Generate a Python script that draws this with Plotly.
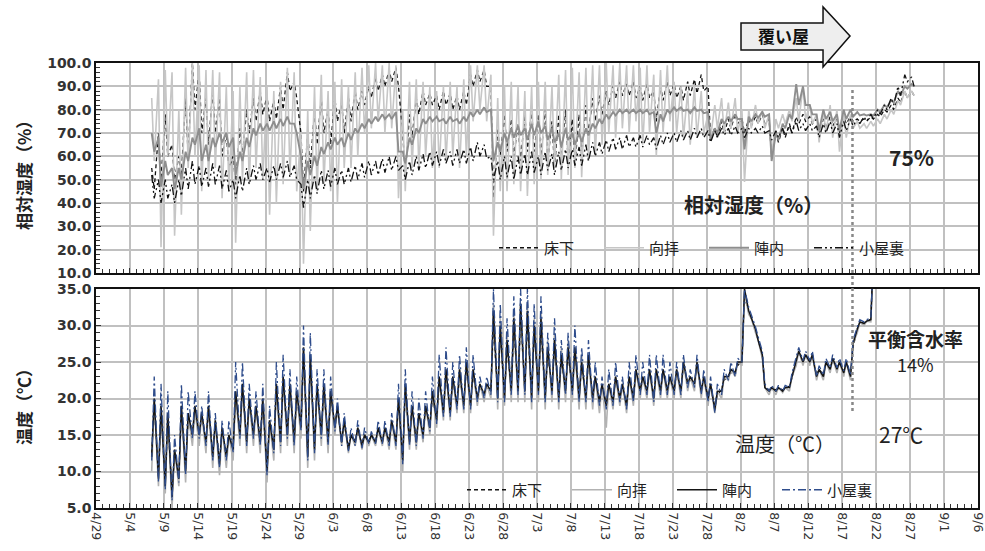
import pandas as pd
import plotly.graph_objects as go

# ---------------- data ----------------
series_names = ["床下", "向拝", "陣内", "小屋裏"]
rh_start = "2021-05-07"   # daily values 5/7 .. 8/27 ; hi at ~05:00, lo at ~14:00
t_start = "2021-05-07"    # daily values 5/7 .. 8/21 ; lo at ~05:00, hi at ~14:00

# Relative humidity (%) ---------------------------------------
rh_yuka_hi = [55, 70, 78, 65, 60, 85, 100, 96, 85, 88,
              85, 70, 60, 72, 80, 85, 88, 86, 84, 90,
              96, 92, 70, 70, 80,
              85, 80, 85, 83, 85, 88, 88, 90, 94, 95,
              97, 98, 70, 78, 85, 88, 87, 86, 88, 87,
              86, 88, 95, 97, 97, 90, 72, 78, 76, 74,
              78, 80, 78, 80, 75, 78, 80, 76, 78, 82,
              85, 86, 88, 90, 92, 91, 92, 90, 91, 88,
              90, 92, 91, 90, 92, 93, 95, 90, 72, 75, 76,
              78, 76, 76, 77, 78, 76, 70, 72, 74, 77,
              78, 77, 76, 76, 77, 76, 77, 77, 76, 76,
              77, 78, 80, 82, 85, 88, 88]
rh_yuka_lo = [46, 50, 60, 50, 52, 60, 80, 70, 65, 70,
              60, 55, 48, 60, 70, 75, 78, 75, 76, 80,
              88, 85, 45, 55, 65,
              70, 65, 75, 70, 75, 80, 82, 85, 88, 90,
              92, 90, 52, 68, 78, 82, 82, 80, 82, 80,
              80, 82, 90, 92, 90, 42, 60, 62, 60, 58,
              62, 62, 60, 58, 55, 60, 58, 56, 60, 70,
              75, 78, 82, 85, 86, 86, 85, 84, 85, 75,
              84, 86, 85, 84, 86, 87, 88, 68, 68, 70, 72,
              74, 70, 73, 74, 74, 60, 66, 68, 70, 74,
              75, 74, 70, 72, 73, 70, 74, 75, 75, 75,
              76, 77, 79, 80, 83, 85, 86]

rh_kouhai_hi = [85, 93, 97, 96, 80, 98, 100, 99, 97, 97,
                96, 90, 88, 90, 96, 97, 94, 90, 88, 92,
                98, 96, 70, 80, 90,
                95, 88, 92, 93, 90, 96, 98, 99, 100, 99,
                100, 99, 80, 92, 93, 92, 90, 88, 90, 92,
                90, 93, 99, 99, 99, 95, 85, 90, 92, 90,
                88, 90, 92, 92, 90, 95, 97, 98, 96, 98,
                99, 99, 100, 99, 100, 99, 99, 98, 99, 95,
                97, 99, 92, 90, 88, 90, 88, 78, 82, 85, 83,
                85, 80, 80, 82, 80, 78, 76, 78, 80, 85,
                90, 82, 78, 80, 82, 80, 78, 78, 75, 74,
                75, 76, 78, 80, 84, 88, 88]
rh_kouhai_lo = [58, 21, 60, 26, 35, 55, 60, 45, 50, 55,
                42, 45, 23, 50, 48, 55, 50, 35, 40, 48,
                52, 45, 14, 28, 45,
                48, 45, 40, 55, 55, 60, 70, 72, 75, 70,
                72, 42, 45, 55, 55, 60, 55, 55, 58, 60,
                55, 60, 75, 80, 75, 26, 45, 45, 48, 45,
                43, 48, 50, 52, 55, 50, 52, 55, 51, 58,
                60, 65, 70, 68, 72, 70, 75, 65, 70, 60,
                70, 75, 70, 68, 65, 68, 70, 68, 72, 70, 72,
                70, 49, 72, 74, 72, 60, 72, 74, 75, 75,
                76, 74, 66, 70, 68, 62, 68, 72, 72, 72,
                73, 74, 76, 78, 82, 85, 86]

rh_jinnai_hi = [70, 68, 58, 55, 55, 62, 68, 72, 65, 68,
                70, 70, 68, 62, 68, 72, 74, 74, 75, 76,
                77, 74, 60, 58, 60,
                64, 66, 68, 68, 70, 72, 74, 76, 77, 78,
                78, 79, 62, 68, 72, 76, 77, 77, 76, 77,
                76, 77, 79, 80, 81, 80, 66, 70, 72, 73,
                72, 74, 75, 73, 72, 70, 72, 70, 70, 72,
                74, 76, 78, 79, 80, 80, 80, 80, 80, 79,
                78, 80, 81, 81, 80, 81, 80, 79, 72, 76, 77,
                78, 76, 77, 78, 79, 78, 70, 74, 78, 91,
                90, 82, 78, 80, 79, 78, 80, 80, 79, 78,
                78, 80, 82, 84, 88, 90, 91]
rh_jinnai_lo = [62, 47, 52, 46, 50, 58, 65, 58, 58, 64,
                66, 64, 52, 58, 64, 69, 71, 71, 72, 73,
                74, 70, 46, 52, 56,
                61, 63, 65, 64, 67, 70, 72, 74, 75, 76,
                76, 62, 57, 65, 70, 74, 75, 75, 74, 75,
                74, 75, 77, 78, 79, 58, 62, 66, 68, 69,
                67, 69, 70, 67, 66, 64, 67, 65, 66, 69,
                72, 74, 76, 77.5, 78.5, 78.5, 78.5, 78.5, 78, 70,
                75, 78.5, 79.5, 79.5, 78.5, 79.5, 78.5, 67, 70, 74, 75,
                76, 63, 75, 76.5, 77, 58, 67, 72, 76, 82,
                82, 78, 71, 76, 75, 71, 76, 77, 77.5, 77.5,
                77.5, 79, 81, 83, 86, 89, 90]

rh_koya_hi = [52, 50, 50, 48, 50, 55, 58, 56, 55, 57,
              56, 54, 50, 52, 55, 56, 57, 55, 56, 57,
              58, 56, 48, 50, 52,
              54, 54, 55, 54, 55, 56, 57, 58, 58, 59,
              60, 60, 56, 58, 60, 61, 62, 62, 63, 62,
              63, 63, 64, 66, 65, 60, 58, 60, 60, 60,
              61, 62, 60, 62, 61, 62, 63, 63, 64, 65,
              66, 66, 67, 68, 68, 69, 68, 69, 69, 68,
              69, 70, 70, 71, 71, 72, 72, 71, 71, 72, 72,
              73, 72, 72, 72, 73, 71, 71, 72, 73, 75,
              74, 74, 73, 74, 75, 74, 75, 76, 76, 77,
              78, 80, 82, 85, 90, 95, 94]
rh_koya_lo = [42, 40, 42, 40, 43, 46, 48, 47, 47, 48,
              46, 45, 42, 45, 48, 50, 50, 49, 50, 51,
              51, 50, 38, 42, 44,
              46, 47, 48, 48, 49, 50, 51, 52, 52, 53,
              54, 54, 50, 52, 54, 55, 56, 56, 57, 56,
              57, 57, 58, 60, 59, 50, 50, 51, 50, 52,
              52, 53, 52, 54, 52, 54, 55, 56, 56, 58,
              60, 61, 62, 63, 63, 64, 64, 64, 65, 63,
              65, 66, 66, 67, 67, 68, 68, 66, 68, 69, 69,
              70, 68, 70, 70, 70, 67, 68, 69, 70, 71,
              71, 71, 68, 70, 70, 68, 71, 73, 74, 75,
              76, 78, 80, 82, 86, 92, 90]

# Temperature (°C) ---------------------------------------------
t_yuka_hi = [19, 18, 17, 12.5, 18, 17, 18, 17.5, 18, 16.5,
             15.5, 14.5, 20, 21, 19, 18.5, 19, 16.5, 21, 22,
             21, 20, 25.5, 25, 21,
             21, 20, 18.5, 16.5, 15, 15.5, 15, 15, 15.5, 15.5,
             16.5, 19, 21, 18.5, 17.5, 18.5, 20, 22, 23, 22.5,
             23, 24, 23, 21.5, 21.5, 30, 29, 27, 29.5, 31,
             30.5, 29, 29.5, 26, 27, 25, 26, 26, 24.5, 25,
             22.5, 21.5, 21.5, 22.5, 21.5, 22.5, 23.5, 22.5, 23.5, 23.5,
             23.5, 22.5, 23.5, 24.5, 22.5, 24.5, 22.5, 21.5, 20.5, 22.5, 23.5,
             24.5, 34, 31, 28, 21.5, 21.3, 21.3, 21.3, 22.8, 26.2,
             25.8, 25.8, 24, 24.8, 25.3, 24.8, 24.8, 27, 30.2, 30.4, 40]
t_yuka_lo = [12.5, 9.5, 8.5, 7, 9.5, 10.5, 15, 15, 14, 12.5,
             11.5, 12.5, 13.5, 15, 14.5, 15, 14.5, 10.5, 13.5, 14.5,
             15, 14.5, 16, 12.5, 13.5,
             15, 14.5, 16, 14.2, 13.3, 14.2, 13.8, 14.2, 14.2, 14.2,
             14.3, 14.3, 12, 14.3, 14.3, 15.3, 16.3, 17.3, 18.3, 18.3,
             19.2, 19.2, 19.2, 20.2, 20.7, 21.2, 20.3, 20.3, 21.2, 21.2,
             21.2, 20.3, 21.2, 20.3, 21.2, 20.3, 21.2, 21.2, 20.3, 20.3,
             20.3, 19.8, 19.3, 19.8, 20.3, 19.3, 20.3, 21.2, 21.2, 20.3,
             21.2, 21.2, 21.2, 21.2, 22.2, 22.2, 21.2, 20.3, 18.8, 21.2, 23.2,
             23.7, 25.2, 31.8, 29.3, 26, 21.2, 21.2, 21.2, 21.7, 25.2,
             25.1, 25.1, 23.2, 23.2, 24.1, 24.1, 23.7, 23.2, 29.6, 30.3, 30.9]

t_kouhai_hi = [20, 19, 18, 13, 19, 18, 18.5, 18, 19, 17,
               16, 15, 21, 22, 20, 19, 20, 17, 22, 23,
               22, 21, 27, 26, 22,
               22, 21, 19, 17, 15, 16, 15, 15, 16, 16,
               17, 20, 22, 19, 18, 19, 21, 23, 24, 23,
               24, 25, 24, 22, 22, 33, 31, 29, 32, 33,
               33, 31, 32, 28, 29, 27, 28, 27, 26, 26,
               23, 22, 22, 23, 22, 23, 24, 23, 24, 24,
               24, 23, 24, 25, 23, 25, 23, 22, 21, 23, 24,
               25, 34.5, 31, 28, 21.5, 21.5, 21.5, 21.5, 23, 26.5,
               26, 26, 24, 25, 25.5, 25, 25, 27.5, 30.5, 30.6, 40]
t_kouhai_lo = [10, 8, 7, 5, 8, 8.5, 13.5, 13.5, 12.5, 10.5,
               9.5, 10.5, 11.5, 13.5, 12.5, 13.5, 12.5, 8.5, 11.5, 12.5,
               13.5, 12.5, 14.5, 10.5, 11.5,
               13.5, 12.5, 15, 13.5, 12.5, 13.5, 13, 13.5, 13.5, 13.5,
               13, 13, 10, 13, 13, 14, 15, 16, 17, 17,
               18, 18, 18, 19, 19.5, 20, 18.5, 19, 19.5, 19.5,
               19.5, 18.5, 19.5, 18.5, 19.5, 18.5, 19.5, 19.5, 18.5, 18.5,
               18.5, 18, 16, 18.5, 19, 18, 19, 20, 20, 19,
               20, 20, 20, 20, 21, 21, 20, 19, 18, 20, 22.5,
               23, 24.5, 31.5, 29, 25.5, 20.5, 20.5, 20.8, 21, 24.5,
               24.5, 24.5, 22.5, 22.5, 23.5, 23.5, 23, 22.5, 29, 30, 30.5]

t_jinnai_hi = [20, 19, 18, 13, 19, 18, 19, 18, 19, 17,
               16, 15, 21, 22, 20, 19, 20, 17, 22, 23,
               22, 21, 27, 26, 22,
               22, 21, 19, 17, 15, 16, 15, 15, 16, 16,
               17, 20, 22, 19, 18, 19, 21, 23, 24, 23,
               24, 25, 24, 22, 22, 32, 30, 28, 31, 33,
               32, 30, 31, 27, 28, 26, 27, 27, 25, 26,
               23, 22, 22, 23, 22, 23, 24, 23, 24, 24,
               24, 23, 24, 25, 23, 25, 23, 22, 21, 23, 24,
               25, 35, 31, 28, 21.5, 21.5, 21.5, 21.5, 23, 26.5,
               26, 26, 24, 25, 25.5, 25, 25, 27.5, 30.5, 30.6, 40]
t_jinnai_lo = [12, 9, 8, 6.5, 9, 10, 15, 15, 14, 12,
               11, 12, 13, 15, 14, 15, 14, 10, 13, 14,
               15, 14, 16, 12, 13,
               15, 14, 16, 14, 13, 14, 13.5, 14, 14, 14,
               14, 14, 11.5, 14, 14, 15, 16, 17, 18, 18,
               19, 19, 19, 20, 20.5, 21, 20, 20, 21, 21,
               21, 20, 21, 20, 21, 20, 21, 21, 20, 20,
               20, 19.5, 19, 19.5, 20, 19, 20, 21, 21, 20,
               21, 21, 21, 21, 22, 22, 21, 20, 18.5, 21, 23,
               23.5, 25, 32, 29.5, 26, 21, 21, 21, 21.5, 25,
               25, 25, 23, 23, 24, 24, 23.5, 23, 29.5, 30.3, 30.8]

t_koya_hi = [23, 22, 21, 15, 22, 21, 21, 19, 21, 18,
             17, 17, 25, 25, 22, 21, 22, 19, 25, 26,
             24, 23, 30, 29, 24,
             24, 23, 20, 18, 16, 17, 16, 15.5, 17, 17,
             18, 22, 24, 21, 20, 21, 23, 26, 27, 25,
             26, 27, 26, 23, 23, 35, 33, 31, 34, 35,
             35, 33, 34, 29, 31, 28, 29, 30, 27, 28,
             25, 23, 24, 25, 23, 25, 26, 25, 26, 26,
             26, 25, 25, 26, 24, 26, 24, 23, 22, 24, 25,
             25.5, 35, 31.5, 28.5, 22, 21.8, 21.8, 21.8, 23.5, 27,
             26.5, 26.5, 24.5, 25.5, 26, 25.5, 25.5, 28, 30.8, 30.8, 40]
t_koya_lo = [11.5, 8.5, 7.5, 6, 8.5, 9.5, 14.5, 14.5, 13.5, 11.5,
             10.5, 11.5, 12.5, 14.5, 13.5, 14.5, 13.5, 9.5, 12.5, 13.5,
             14.5, 13.5, 15.5, 11.5, 12.5,
             14.5, 13.5, 15.5, 13.5, 12.8, 13.5, 13.2, 13.8, 13.8, 13.8,
             13.5, 13.5, 11, 13.5, 13.5, 14.5, 15.5, 16.5, 17.5, 17.5,
             18.5, 18.5, 18.5, 19.5, 20, 20.5, 19.5, 19.5, 20.5, 20.5,
             20.5, 19.5, 20.5, 19.5, 20.5, 19.5, 20.5, 20.5, 19.5, 19.5,
             19.5, 19, 18.5, 19, 19.5, 18.5, 19.5, 20.5, 20.5, 19.5,
             20.5, 20.5, 20.5, 20.5, 21.5, 21.5, 20.5, 19.5, 18, 20.5, 22.5,
             23, 25, 32.5, 29.8, 26.5, 21, 21, 21, 21.5, 25.5,
             25.2, 25.2, 23, 23.2, 24.2, 24.2, 23.8, 23.2, 29.8, 30.5, 31]

x_range = ["2021-04-29", "2021-09-06"]
cover_date = "2021-08-18 12:00"

# ---------------- helpers ----------------
def build(start, first, second):
    days = pd.date_range(start, periods=len(first), freq="D")
    xs, ys = [], []
    for d, a, b in zip(days, first, second):
        xs += [d + pd.Timedelta(hours=5), d + pd.Timedelta(hours=14)]
        ys += [a, b]
    return xs, ys

W, H = 985, 551
L, R, T, B = 96, 7, 63, 43
PW, PH = W - L - R, H - T - B
def px(x):
    return (x - L) / PW
def py(y):
    return (H - B - y) / PH

CJK = "Noto Sans CJK JP"
NUM = "DejaVu Sans"

fig = go.Figure()

top_styles = [
    dict(color="#111111", width=1.3, dash="4px,3px"),
    dict(color="#c6c6c6", width=1.6),
    dict(color="#8e8e8e", width=1.9),
    dict(color="#111111", width=1.3, dash="8px,3px,2px,3px,2px,3px"),
]
bot_styles = [
    dict(color="#111111", width=1.3, dash="4px,3px"),
    dict(color="#b2b2b2", width=1.6),
    dict(color="#151515", width=1.5),
    dict(color="#2f4d8c", width=1.3, dash="8px,3px,2px,3px"),
]

rh_data = [(rh_yuka_hi, rh_yuka_lo), (rh_kouhai_hi, rh_kouhai_lo),
           (rh_jinnai_hi, rh_jinnai_lo), (rh_koya_hi, rh_koya_lo)]
t_data = [(t_yuka_lo, t_yuka_hi), (t_kouhai_lo, t_kouhai_hi),
          (t_jinnai_lo, t_jinnai_hi), (t_koya_lo, t_koya_hi)]

for name, (a, b), st in zip(series_names, rh_data, top_styles):
    xs, ys = build(rh_start, a, b)
    fig.add_trace(go.Scatter(x=xs, y=ys, mode="lines", name=name, line=st,
                             xaxis="x", yaxis="y", legend="legend"))
for name, (a, b), st in zip(series_names, t_data, bot_styles):
    xs, ys = build(t_start, a, b)
    fig.add_trace(go.Scatter(x=xs, y=ys, mode="lines", name=name, line=st,
                             xaxis="x2", yaxis="y2", legend="legend2"))

grid = "#c0c0c0"
xcommon = dict(type="date", range=x_range, dtick=5 * 86400000, tick0="2021-04-29",
               tickformat="%-m/%-d", showgrid=True, gridcolor=grid, gridwidth=1.5,
               showline=True, linecolor="#111", linewidth=1.5, mirror=True,
               ticks="inside", ticklen=5, tickcolor="#333", automargin=False,
               minor=dict(dtick=86400000, ticks="inside", ticklen=4, tickcolor="#333", showgrid=False),
               zeroline=False)
ycommon = dict(showgrid=True, gridcolor=grid, gridwidth=1.5, zeroline=False, tickformat=".1f",
               showline=True, linecolor="#111", linewidth=1.5, mirror=True,
               ticks="inside", ticklen=5, tickcolor="#333", automargin=False,
               tickfont=dict(family=NUM, size=14, color="#333", weight="bold"))
fig.update_layout(
    xaxis=dict(xcommon, anchor="y", domain=[0, 1], showticklabels=False),
    xaxis2=dict(xcommon, anchor="y2", domain=[0, 1], matches="x", tickangle=90,
                ticklabeloverflow="allow",
                tickfont=dict(family=NUM, size=12.5, color="#333")),
    yaxis=dict(ycommon, domain=[py(273), 1], anchor="x", range=[10, 100], dtick=10,
               minor=dict(dtick=2, ticks="inside", ticklen=4, tickcolor="#333", showgrid=False)),
    yaxis2=dict(ycommon, domain=[0, py(289)], anchor="x2", range=[5, 35], dtick=5,
                minor=dict(dtick=1, ticks="inside", ticklen=4, tickcolor="#333", showgrid=False)),
    legend=dict(orientation="h", x=px(494), y=py(248), xanchor="left", yanchor="middle",
                bgcolor="rgba(0,0,0,0)", font=dict(family=CJK, size=15, color="#222"),
                itemwidth=40, entrywidth=50, entrywidthmode="pixels", traceorder="normal"),
    legend2=dict(orientation="h", x=px(462), y=py(490), xanchor="left", yanchor="middle",
                 bgcolor="rgba(0,0,0,0)", font=dict(family=CJK, size=15, color="#222"),
                 itemwidth=40, entrywidth=50, entrywidthmode="pixels", traceorder="normal"),
    width=W, height=H, margin=dict(l=L, r=R, t=T, b=B, autoexpand=False),
    plot_bgcolor="white", paper_bgcolor="white", showlegend=True,
)

ann = [
    dict(text="相対湿度（%）", x=px(23), y=py(171), textangle=-90, font=dict(family=CJK, size=17, color="#222", weight="bold")),
    dict(text="温度（℃）", x=px(23), y=py(403), textangle=-90, font=dict(family=CJK, size=17, color="#222", weight="bold")),
    dict(text="相対湿度（%）", x=px(753), y=py(205), font=dict(family=CJK, size=20, color="#222", weight="bold")),
    dict(text="75%", x=px(911), y=py(157), font=dict(family=CJK, size=21, color="#222", weight="bold")),
    dict(text="温度（℃）", x=px(785), y=py(443), font=dict(family=CJK, size=20, color="#222")),
    dict(text="27℃", x=px(901), y=py(434), font=dict(family=CJK, size=21, color="#222")),
    dict(text="平衡含水率", x=px(915), y=py(338), font=dict(family=CJK, size=19, color="#222", weight="bold")),
    dict(text="14%", x=px(915), y=py(364), font=dict(family=CJK, size=18, color="#222")),
    dict(text="覆い屋", x=px(783), y=py(36), font=dict(family=CJK, size=17, color="#111", weight="bold")),
]
for a in ann:
    fig.add_annotation(xref="paper", yref="paper", showarrow=False, xanchor="center", yanchor="middle", **a)

pts = [(741, 23), (823, 23), (823, 7), (850, 36), (823, 67), (823, 50), (741, 50)]
path = "M " + " L ".join(f"{px(a):.4f},{py(b):.4f}" for a, b in pts) + " Z"
fig.add_shape(type="path", path=path, xref="paper", yref="paper",
              fillcolor="#eeeeee", line=dict(color="#111", width=1.5), layer="above")
fig.add_shape(type="line", xref="x", yref="paper", x0=cover_date, x1=cover_date,
              y0=py(90), y1=py(413), line=dict(color="#888", width=2.5, dash="dot"), layer="above")

fig.write_html("out.html")
